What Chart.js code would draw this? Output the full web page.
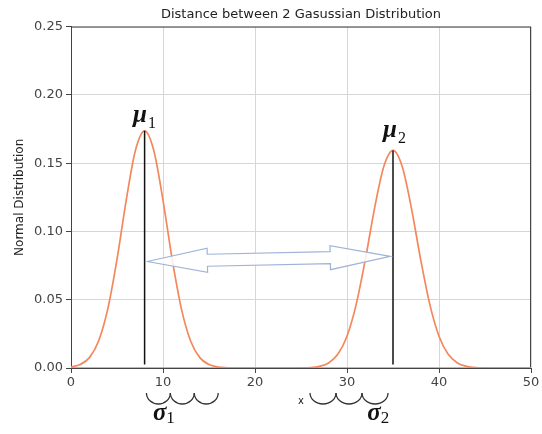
<!DOCTYPE html>
<html>
<head>
<meta charset="utf-8">
<title>Distance between 2 Gasussian Distribution</title>
<script src="https://cdn.jsdelivr.net/npm/chart.js@4.4.1/dist/chart.umd.min.js"></script>
<style>
    html, body { margin: 0; padding: 0; background: #fff; }
    #wrap { width: 542px; height: 434px; }
</style>
</head>
<body>
<div id="wrap"><canvas id="graphCanvas" width="542" height="434"></canvas></div>
<script>
// Values
const xValues = [0, 1, 2, 3, 4, 5, 6, 7, 8, 9, 10, 11, 12, 13, 14, 15, 16, 17, 18, 19, 20,
    21, 22, 23, 24, 25, 26, 27, 28, 29, 30, 31, 32, 33, 34, 35, 36, 37, 38, 39, 40,
    41, 42, 43, 44, 45, 46, 47, 48, 49, 50];

const dist1 = [0.0007, 0.0025, 0.0076, 0.0198, 0.0433, 0.0795, 0.1228, 0.1593, 0.1737, 0.1593, 0.1228,
    0.0795, 0.0433, 0.0198, 0.0076, 0.0025, 0.0007, 0.0002, 0, 0, 0,
    0, 0, 0, 0, 0, 0, 0, 0, 0, 0,
    0, 0, 0, 0, 0, 0, 0, 0, 0, 0,
    0, 0, 0, 0, 0, 0, 0, 0, 0, 0];

const dist2 = [0, 0, 0, 0, 0, 0, 0, 0, 0, 0, 0,
    0, 0, 0, 0, 0, 0, 0, 0, 0, 0,
    0, 0, 0, 0, 0.0001, 0.0003, 0.0012, 0.0037, 0.0100, 0.0233,
    0.0466, 0.0797, 0.1171, 0.1475, 0.1593, 0.1475, 0.1171, 0.0797, 0.0466, 0.0233,
    0.0100, 0.0037, 0.0012, 0.0003, 0.0001, 0, 0, 0, 0, 0];

const means = [8, 35];
const peaks = [0.1737, 0.1593];
const meanLineBottom = 0.0025;

const xTicks = [0, 10, 20, 30, 40, 50];
const yTicks = [0, 0.05, 0.10, 0.15, 0.20, 0.25];

const orange = "#f4875c";

function toPoints(ys) {
    return xValues.map((x, i) => ({ x: x, y: ys[i] }));
}

// Frame around the plot, then the hand drawn notes (arrow, mu, sigma)
const notesPlugin = {
    id: "notes",
    beforeDatasetsDraw(chart) {
        const a = chart.chartArea;
        const ctx = chart.ctx;
        ctx.save();
        ctx.strokeStyle = "#444";
        ctx.lineWidth = 1;
        ctx.strokeRect(a.left + 0.5, a.top + 0.5, a.right - a.left - 1, a.bottom - a.top);
        ctx.restore();
    },
    afterDatasetsDraw(chart) {
        const ctx = chart.ctx;
        const xs = chart.scales.x;
        const ys = chart.scales.y;
        const bottom = chart.chartArea.bottom;

        // double arrow between the two means
        const p1 = { x: xs.getPixelForValue(8.3), y: ys.getPixelForValue(0.078) };
        const p2 = { x: xs.getPixelForValue(34.7), y: ys.getPixelForValue(0.0817) };
        const L = Math.hypot(p2.x - p1.x, p2.y - p1.y);
        const H = 60, hw = 12, sw = 6;
        ctx.save();
        ctx.translate(p1.x, p1.y);
        ctx.rotate(Math.atan2(p2.y - p1.y, p2.x - p1.x));
        ctx.beginPath();
        ctx.moveTo(0, 0);
        ctx.lineTo(H, -hw);
        ctx.lineTo(H, -sw);
        ctx.lineTo(L - H, -sw);
        ctx.lineTo(L - H, -hw);
        ctx.lineTo(L, 0);
        ctx.lineTo(L - H, hw);
        ctx.lineTo(L - H, sw);
        ctx.lineTo(H, sw);
        ctx.lineTo(H, hw);
        ctx.closePath();
        ctx.fillStyle = "rgba(255,255,255,0.85)";
        ctx.fill();
        ctx.strokeStyle = "#9fb3d6";
        ctx.lineWidth = 1.2;
        ctx.stroke();
        ctx.restore();

        // mu labels over the peaks
        ctx.save();
        ctx.fillStyle = "#111";
        ctx.textBaseline = "alphabetic";
        const muLabels = [
            { x: 6.74, y: 0.1803, sub: "1" },
            { x: 33.91, y: 0.1693, sub: "2" }
        ];
        muLabels.forEach(m => {
            const px = xs.getPixelForValue(m.x);
            const py = ys.getPixelForValue(m.y);
            ctx.font = 'italic bold 25px "Liberation Serif"';
            ctx.fillText("\u03bc", px, py);
            const w = ctx.measureText("\u03bc").width;
            ctx.font = '16px "Liberation Serif"';
            ctx.fillText(m.sub, px + w + 1, py + 6);
        });

        // sigma braces under the axis
        ctx.strokeStyle = "#333";
        ctx.lineWidth = 1.3;
        const braces = [
            { from: 8.2, to: 16.0 },
            { from: 25.98, to: 34.46 }
        ];
        braces.forEach(b => {
            const x0 = xs.getPixelForValue(b.from);
            const x1 = xs.getPixelForValue(b.to);
            const w = (x1 - x0) / 3;
            for (let k = 0; k < 3; k++) {
                ctx.beginPath();
                ctx.ellipse(x0 + w * (k + 0.5), bottom + 25, w / 2, 11, 0, 0, Math.PI);
                ctx.stroke();
            }
        });

        const sigmaLabels = [
            { x: 8.9, sub: "1" },
            { x: 32.2, sub: "2" }
        ];
        sigmaLabels.forEach(s => {
            const px = xs.getPixelForValue(s.x);
            const py = bottom + 52;
            ctx.font = 'italic bold 25px "Liberation Serif"';
            ctx.fillText("\u03c3", px, py);
            const w = ctx.measureText("\u03c3").width;
            ctx.font = '17px "Liberation Serif"';
            ctx.fillText(s.sub, px + w, py + 3);
        });
        ctx.restore();
    }
};

function drawChart() {
    const ctx = document.getElementById("graphCanvas").getContext("2d");
    new Chart(ctx, {
        type: "line",
        data: {
            datasets: [
                {
                    label: "mean 1",
                    data: [{ x: means[0], y: meanLineBottom }, { x: means[0], y: peaks[0] }],
                    borderColor: "#111",
                    borderWidth: 1.5,
                    pointRadius: 0
                },
                {
                    label: "mean 2",
                    data: [{ x: means[1], y: meanLineBottom }, { x: means[1], y: peaks[1] }],
                    borderColor: "#111",
                    borderWidth: 1.5,
                    pointRadius: 0
                },
                {
                    label: "Distribution 1",
                    data: toPoints(dist1),
                    borderColor: orange,
                    borderWidth: 1.7,
                    pointRadius: 0,
                    cubicInterpolationMode: "monotone",
                    fill: false
                },
                {
                    label: "Distribution 2",
                    data: toPoints(dist2),
                    borderColor: orange,
                    borderWidth: 1.7,
                    pointRadius: 0,
                    cubicInterpolationMode: "monotone",
                    fill: false
                }
            ]
        },
        options: {
            responsive: false,
            animation: false,
            devicePixelRatio: 1,
            layout: { padding: { left: 0, right: 11, top: 0, bottom: 0 } },
            plugins: {
                legend: { display: false },
                tooltip: { enabled: false },
                title: {
                    display: true,
                    fullSize: false,
                    text: "Distance between 2 Gasussian Distribution",
                    color: "#222",
                    font: { family: "DejaVu Sans", size: 13, weight: "normal" },
                    padding: { top: 7, bottom: 4 }
                }
            },
            scales: {
                x: {
                    type: "linear",
                    min: 0,
                    max: 50,
                    afterBuildTicks: scale => { scale.ticks = xTicks.map(v => ({ value: v })); },
                    afterFit: scale => { scale.height = 66; },
                    ticks: {
                        color: "#444",
                        padding: 2,
                        maxRotation: 0,
                        font: { family: "DejaVu Sans", size: 13 }
                    },
                    grid: { color: "#d6d6d6", tickColor: "#444", tickLength: 5 },
                    border: { display: true, color: "#444" },
                    title: {
                        display: true,
                        text: "x",
                        color: "#222",
                        font: { family: "DejaVu Sans", size: 10 },
                        padding: { top: 0, bottom: 27 }
                    }
                },
                y: {
                    type: "linear",
                    min: 0,
                    max: 0.25,
                    afterBuildTicks: scale => { scale.ticks = yTicks.map(v => ({ value: v })); },
                    afterFit: scale => { scale.width = 71; },
                    ticks: {
                        color: "#444",
                        padding: 3,
                        font: { family: "DejaVu Sans", size: 13 },
                        callback: v => v.toFixed(2)
                    },
                    grid: { color: "#d6d6d6", tickColor: "#444", tickLength: 5 },
                    border: { display: true, color: "#444" },
                    title: {
                        display: true,
                        text: "Normal Distribution",
                        color: "#222",
                        font: { family: "DejaVu Sans", size: 12 },
                        padding: { top: 13, bottom: 0 }
                    }
                }
            }
        },
        plugins: [notesPlugin]
    });
}

window.onload = drawChart;
</script>
</body>
</html>
